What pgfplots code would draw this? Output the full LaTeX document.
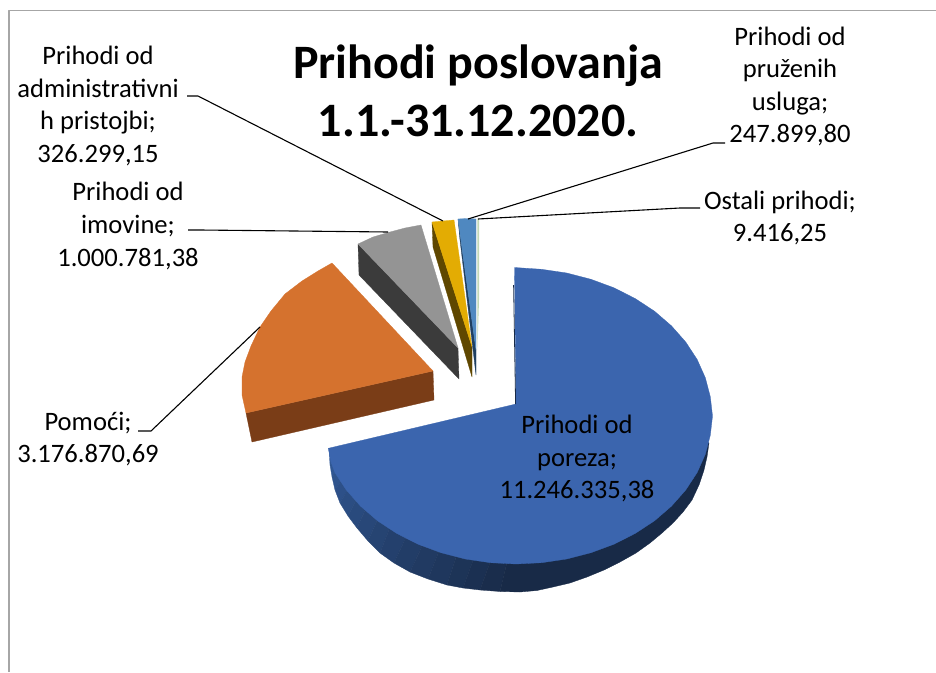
\documentclass[border=0pt]{standalone}
\usepackage{pgfplots}
\pgfplotsset{compat=1.18}
\usepackage{fontspec}
\setmainfont{Carlito}
\definecolor{frame}{HTML}{A6A6A6}
\definecolor{btop}{HTML}{3B65AE}
\definecolor{bdark}{HTML}{182A47}
\definecolor{otop}{HTML}{D5722E}
\definecolor{oside}{HTML}{7A3D17}
\definecolor{gtop}{HTML}{949494}
\definecolor{gside}{HTML}{3B3B3B}
\definecolor{ytop}{HTML}{E3AC03}
\definecolor{yside}{HTML}{5F4700}
\definecolor{ltop}{HTML}{4F88C0}
\definecolor{lside}{HTML}{1F3F60}
\definecolor{sliver}{HTML}{C3D8B6}
\pgfplotsset{st/.style n args={3}{fill={rgb,255:red,#1;green,#2;blue,#3},draw={rgb,255:red,#1;green,#2;blue,#3},line width=.3pt}}
\begin{document}
\begin{tikzpicture}
\useasboundingbox (0,0) rectangle (936pt,672pt);
\begin{axis}[
  at={(0,0)},anchor=south west,
  width=936pt,height=672pt,scale only axis,
  xmin=0,xmax=936,ymin=0,ymax=672,y dir=reverse,
  hide axis,clip=false,no markers,
  every axis plot/.append style={line join=round,solid},
]
% frame
\addplot[frame,line width=1.5pt] coordinates {(9,672)(9,10.7)(936,10.7)};
% ---- blue side, shaded strips
\addplot[st={50}{90}{152}] coordinates {(329,449)(335,459)(330,465)(329,449)};
\addplot[st={48}{87}{147}] coordinates {(335,459)(340,467)(332,477)(330,465)(335,459)};
\addplot[st={47}{84}{141}] coordinates {(340,467)(345,475)(335,490)(332,477)(340,467)};
\addplot[st={45}{80}{136}] coordinates {(345,475)(351,484)(340,503)(335,490)(345,475)};
\addplot[st={43}{77}{130}] coordinates {(351,484)(359,494)(348,516)(340,503)(351,484)};
\addplot[st={41}{74}{125}] coordinates {(359,494)(368,504)(357,528)(348,516)(359,494)};
\addplot[st={40}{71}{120}] coordinates {(368,504)(380,514)(368,541)(357,528)(368,504)};
\addplot[st={38}{68}{114}] coordinates {(380,514)(392,522)(380,553)(368,541)(380,514)};
\addplot[st={36}{64}{109}] coordinates {(392,522)(408,533)(394,563)(380,553)(392,522)};
\addplot[st={34}{61}{103}] coordinates {(408,533)(425,540)(410,572)(394,563)(408,533)};
\addplot[st={33}{58}{98}] coordinates {(425,540)(441,546)(428,579)(410,572)(425,540)};
\addplot[st={31}{55}{93}] coordinates {(441,546)(458,551)(447,585)(428,579)(441,546)};
\addplot[st={29}{52}{87}] coordinates {(458,551)(475,555)(463,588)(447,585)(458,551)};
\addplot[st={27}{48}{82}] coordinates {(475,555)(492,557)(480,590)(463,588)(475,555)};
\addplot[st={26}{45}{76}] coordinates {(492,557)(508,558)(500,591.5)(480,590)(492,557)};
\addplot[st={24}{42}{71}] coordinates {(508,558)(553,552)(620,532)(677,492)(703,440)(709,443)(707,457)(704,470)(699,485)(692,500)(683,512)(673,523)(662,533)(650,543)(636,553)(620,562)(604,570)(587,577)(570,583)(553,587)(537,590.5)(520,592)(500,591.5)(508,558)};
% ---- blue top
\addplot[fill=btop,draw=btop,line width=.3pt] coordinates {(516,404)(514.5,267.5)(541.6,269.3)(566.7,273)(591,279.3)(614,287.8)(635.3,298.6)(654.6,311.3)(671.5,325.9)(685.7,342)(697.1,359.4)(705.3,377.7)(710.3,396.7)(712.5,416)(710.3,435.3)(705.3,454.3)(697.1,472.6)(685.7,490)(671.5,506.1)(654.6,520.7)(635.3,533.4)(614,544.2)(591,552.7)(566.7,559)(541.6,562.7)(516,564)(490.4,562.7)(465.3,559)(441,552.7)(418,544.2)(396.7,533.4)(377.4,520.7)(360.5,506.1)(346.3,490)(334.9,472.6)(331,462)(328.3,448.3)(516,404)};
\addplot[bdark,line width=.8pt] coordinates {(513.6,285)(515.6,404)};
% ---- orange
\addplot[fill=oside,draw=oside,line width=.3pt] coordinates {(246,413)(433,371)(434,400)(252,442)(246,413)};
\addplot[fill=otop,draw=otop,line width=.3pt] coordinates {(433,371)(332,263)(318,271)(302,281)(285,294)(271,311)(260,327)(251,346)(245,362)(242,377)(242,395)(246,413)(433,371)};
% ---- grey
\addplot[fill=gside,draw=gside,line width=.3pt] coordinates {(358,244)(458,348)(459,379)(359,275)(358,244)};
\addplot[fill=gtop,draw=gtop,line width=.3pt] coordinates {(458,348)(421,225)(405,228)(390,232)(373,237)(358,244)(458,348)};
% ---- gold
\addplot[fill=yside,draw=yside,line width=.3pt] coordinates {(432,222)(472,347)(472,377)(433,247)(432,222)};
\addplot[fill=ytop,draw=ytop,line width=.3pt] coordinates {(472,347)(454,220)(443,221)(432,222)(472,347)};
% ---- light blue
\addplot[fill=lside,draw=lside,line width=.3pt] coordinates {(458,219)(476,350)(476,375)(460,240)(458,219)};
\addplot[fill=ltop,draw=ltop,line width=.3pt] coordinates {(476,350)(476,219)(467,218.5)(458,219)(476,350)};
% ---- sliver
\addplot[fill=sliver,draw=none] coordinates {(477.4,219)(479,219)(479,300)(477.4,350)(477.4,219)};
% ---- leader lines
\addplot[black,line width=1.1pt] coordinates {(187,96)(198,96)(443,221)};
\addplot[black,line width=1.1pt] coordinates {(188,230)(200,230)(388,232)};
\addplot[black,line width=1.1pt] coordinates {(138,431)(151,431)(260,327)};
\addplot[black,line width=1.1pt] coordinates {(725,143)(713,143)(468,219)};
\addplot[black,line width=1.1pt] coordinates {(700,208)(680,208)(478,219)};
% ---- text
\node[align=center,inner sep=0pt,font=\fontsize{48}{58}\selectfont\bfseries] at (478,91) {Prihodi poslovanja\\1.1.-31.12.2020.};
\node[align=center,inner sep=0pt,font=\fontsize{26.6}{32.6}\selectfont] at (98,106) {Prihodi od\\administrativni\\h pristojbi;\\326.299,15};
\node[align=center,inner sep=0pt,font=\fontsize{26.6}{32.6}\selectfont] at (128,226) {Prihodi od\\imovine;\\1.000.781,38};
\node[align=center,inner sep=0pt,font=\fontsize{26.6}{32.6}\selectfont] at (88,439) {Pomoći;\\3.176.870,69};
\node[align=center,inner sep=0pt,font=\fontsize{26.6}{32.6}\selectfont] at (577,458.5) {Prihodi od\\poreza;\\11.246.335,38};
\node[align=center,inner sep=0pt,font=\fontsize{26.6}{32.6}\selectfont] at (790,86.5) {Prihodi od\\pruženih\\usluga;\\247.899,80};
\node[align=center,inner sep=0pt,font=\fontsize{26.6}{32.6}\selectfont] at (780,218) {Ostali prihodi;\\9.416,25};
\end{axis}
\end{tikzpicture}
\end{document}
